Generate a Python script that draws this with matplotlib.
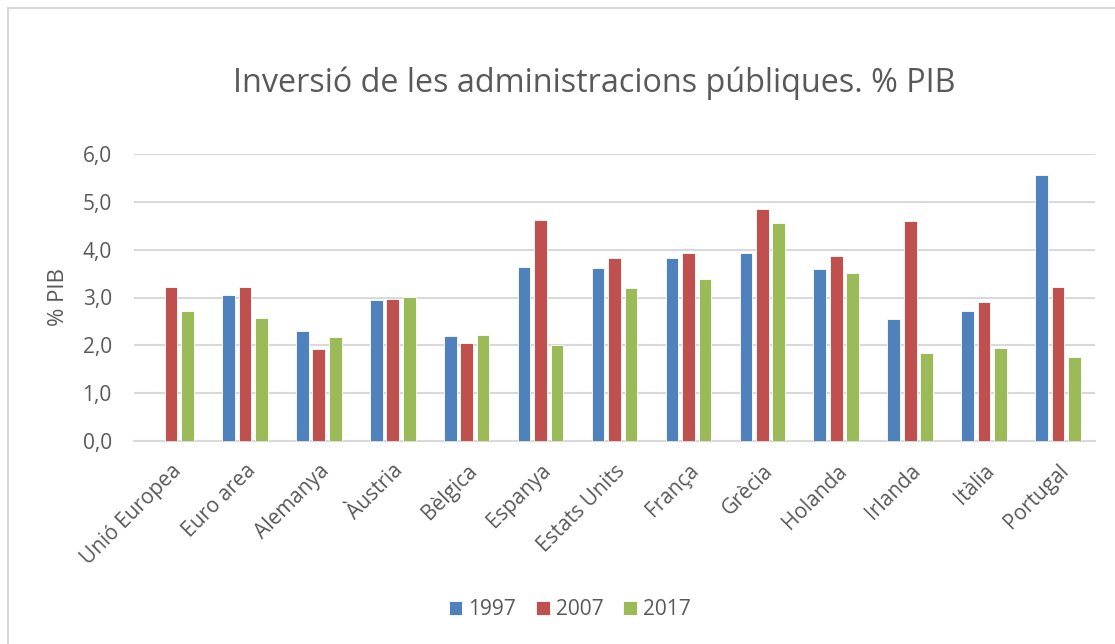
import numpy as np
import matplotlib
matplotlib.use("Agg")
import matplotlib.pyplot as plt
from matplotlib.patches import Rectangle

# data
countries = ["Unió Europea", "Euro area", "Alemanya", "Àustria", "Bèlgica", "Espanya",
             "Estats Units", "França", "Grècia", "Holanda", "Irlanda", "Itàlia", "Portugal"]
years = ["1997", "2007", "2017"]
v1997 = [0.0, 3.06, 2.31, 2.94, 2.20, 3.64, 3.61, 3.82, 3.92, 3.60, 2.55, 2.71, 5.56]
v2007 = [3.22, 3.22, 1.93, 2.97, 2.04, 4.63, 3.82, 3.93, 4.84, 3.86, 4.60, 2.90, 3.22]
v2017 = [2.72, 2.58, 2.17, 3.01, 2.21, 2.00, 3.20, 3.38, 4.56, 3.51, 1.85, 1.95, 1.76]
yticks = [0, 1, 2, 3, 4, 5, 6]

colors = ["#4F81BD", "#C0504D", "#9BBB59"]
txt = "#595959"
plt.rcParams['font.family'] = ['Open Sans', 'DejaVu Sans']

fig = plt.figure(figsize=(11.15, 6.44), dpi=100)
ax = fig.add_axes([134/1115, 1 - 441/644, 961/1115, 287/644])

# outer frame of the chart
fig.patches.append(Rectangle((8/1115, -0.05), 1.2, 1 - 8/644 + 0.05, transform=fig.transFigure,
                             fill=False, edgecolor="#D9D9D9", linewidth=1.5))

x = np.arange(len(countries))
w = 0.172
step = 0.223
for k, (vals, c, lab) in enumerate(zip([v1997, v2007, v2017], colors, years)):
    ax.bar(x + (k - 1) * step, vals, width=w, color=c, label=lab,
           edgecolor="white", linewidth=0.6, zorder=3)

ax.set_xlim(-0.5, len(countries) - 0.5)
ax.set_ylim(0, 6)
ax.set_yticks(yticks)
ax.set_yticklabels([f"{t:.1f}".replace(".", ",") for t in yticks], fontsize=15, color=txt)
ax.set_xticks(x)
ax.set_xticklabels(countries, rotation=45, ha="right", rotation_mode="anchor",
                   fontsize=15, color=txt)
ax.tick_params(axis="y", length=0, pad=16)
ax.tick_params(axis="x", length=0, pad=14)
ax.grid(axis="y", color="#D9D9D9", linewidth=1.5, zorder=0)
for s in ["top", "right", "left"]:
    ax.spines[s].set_visible(False)
ax.spines["bottom"].set_color("#D9D9D9")
ax.spines["bottom"].set_linewidth(1.5)

ax.set_ylabel("% PIB", fontsize=16, color=txt, labelpad=10)
fig.text(0.533, 0.871, "Inversió de les administracions públiques. % PIB",
         ha="center", va="center", fontsize=23.3, color=txt)

fig.legend(loc="center", bbox_to_anchor=(0.511, 0.053), ncol=3, frameon=False,
           fontsize=15, handlelength=0.65, handleheight=0.65, handletextpad=0.3,
           columnspacing=0.95, labelcolor=txt)

fig.savefig("out.png", dpi=100)
